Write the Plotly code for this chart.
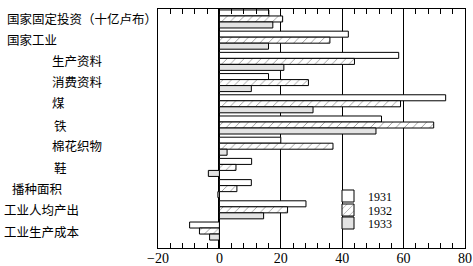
import plotly.graph_objects as go

categories = ["国家固定投资（十亿卢布）", "国家工业", "生产资料", "消费资料", "煤", "铁",
              "棉花织物", "鞋", "播种面积", "工业人均产出", "工业生产成本"]
label_indent = [5, 5, 50, 50, 50, 52, 50, 52, 10, 2, 2]
years = ["1931", "1932", "1933"]
v1931 = [16.1, 42, 58.4, 16, 73.7, 52.8, 20, 10.5, 10.4, 28.2, -9.7]
v1932 = [20.6, 36, 44, 29, 59, 69.8, 37, 5.4, 5.7, 22.2, -6.5]
v1933 = [17.4, 16, 21, 10.4, 30.5, 51, 2.5, -3.6, -0.5, 14.4, -3.2]

pos = list(range(len(categories)))
fig = go.Figure()
styles = [
    dict(color="white", pattern=dict(shape="")),
    dict(color="white", pattern=dict(shape="/", fgcolor="black", bgcolor="white", size=6, solidity=0.12)),
    dict(color="#e3e3e3", pattern=dict(shape="")),
]
legends = ["legend", "legend2", "legend3"]
for name, vals, st, lg in zip(years, [v1931, v1932, v1933], styles, legends):
    fig.add_trace(go.Bar(
        y=pos, x=vals, name=name, orientation="h", legend=lg,
        marker=dict(color=st["color"], pattern=st["pattern"],
                    line=dict(color="black", width=1)),
    ))

L, R, T, B = 158, 8, 9, 18
W, H = 473, 266
pw = W - L - R
ph = H - T - B
label_shift = [0, -1, -1, -1, -1, 0, -1, 0, 0, 0, 0]
for i, (c, ind) in enumerate(zip(categories, label_indent)):
    fig.add_annotation(x=(ind - L) / pw, xref="paper", y=i, yref="y",
                       text=c, showarrow=False, xanchor="left", yanchor="middle",
                       yshift=-label_shift[i],
                       font=dict(family="Noto Sans CJK SC", size=12.5, color="black"))

leg_font = dict(family="Liberation Serif", size=12, color="black")
leg_x = (328 - L) / pw
leg_centers = [196, 210, 223]
leg_common = dict(x=leg_x, xanchor="left", yanchor="middle", bgcolor="rgba(0,0,0,0)",
                  font=leg_font, itemwidth=30, borderwidth=0)
fig.update_layout(
    width=W, height=H, margin=dict(l=L, r=R, t=T, b=B),
    paper_bgcolor="white", plot_bgcolor="white",
    barmode="group", bargap=0.15, bargroupgap=0,
    showlegend=True,
    legend=dict(y=(H - B - leg_centers[0]) / ph, **leg_common),
    legend2=dict(y=(H - B - leg_centers[1]) / ph, **leg_common),
    legend3=dict(y=(H - B - leg_centers[2]) / ph, **leg_common),
    xaxis=dict(range=[-20, 80], dtick=20, tick0=0, showgrid=True, gridcolor="black", gridwidth=1.2,
               zeroline=True, zerolinecolor="black", zerolinewidth=1.5,
               showline=True, linecolor="black", linewidth=1.2, mirror="allticks",
               ticks="inside", ticklen=5, tickcolor="black", automargin=False,
               ticklabelstandoff=-3,
               minor=dict(dtick=4, ticks="inside", ticklen=5, tickcolor="black", showgrid=False),
               tickfont=dict(family="Liberation Serif", size=14, color="black")),
    yaxis=dict(range=[10.8, -0.47], showticklabels=False, showgrid=False, zeroline=False,
               automargin=False,
               showline=True, linecolor="black", linewidth=1.2, mirror=True, ticks=""),
)
fig.write_html("out.html")
